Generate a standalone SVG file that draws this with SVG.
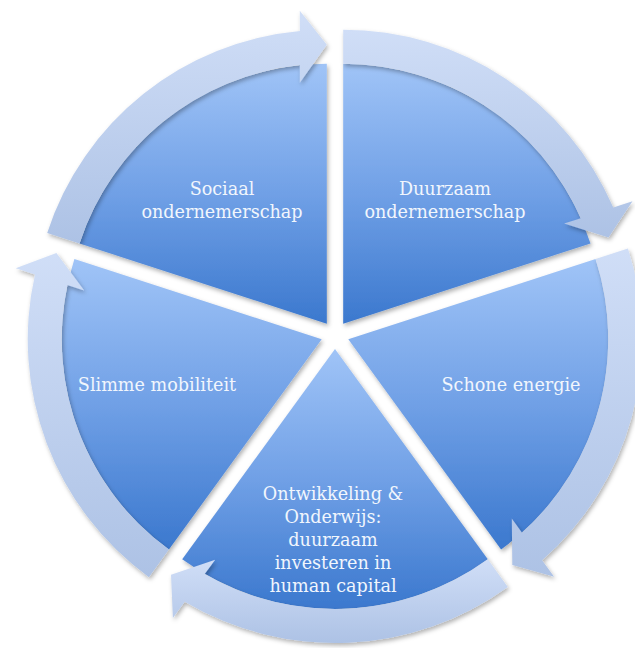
<svg xmlns="http://www.w3.org/2000/svg" width="635" height="648" viewBox="0 0 635 648">
<defs>
<linearGradient id="gw" x1="0" y1="0" x2="0" y2="1">
<stop offset="0" stop-color="#a0c4f7"/>
<stop offset="0.5" stop-color="#70a0e6"/>
<stop offset="1" stop-color="#3b78ce"/>
</linearGradient>
<linearGradient id="ga" x1="0" y1="0" x2="0" y2="1">
<stop offset="0" stop-color="#d0def7"/>
<stop offset="1" stop-color="#adc2e5"/>
</linearGradient>
<filter id="sh" x="-10%" y="-10%" width="120%" height="120%">
<feDropShadow dx="1.5" dy="2.5" stdDeviation="2.2" flood-color="#000" flood-opacity="0.3"/>
</filter>
</defs>
<style>
.wedge{fill:url(#gw);filter:url(#sh)}
.arrow{fill:url(#ga);filter:url(#sh)}
.lbl{font-family:"DejaVu Serif","Liberation Serif",serif;font-size:17.6px;fill:#f1f6fd;text-anchor:middle}
</style>
<rect width="635" height="648" fill="#ffffff"/>
<g id="node-duurzaam">
<path class="wedge" d="M343.2,323.7 L343.2,63.7 A260,260 0 0 1 590.5,243.4 Z"/>
<text class="lbl" x="445" y="195">Duurzaam</text>
<text class="lbl" x="445" y="218">ondernemerschap</text>
</g>
<g id="node-schone">
<path class="wedge" d="M348.3,339.3 L595.6,259.0 A260,260 0 0 1 501.1,549.6 Z"/>
<text class="lbl" x="511" y="391">Schone energie</text>
</g>
<g id="node-ontwikkeling">
<path class="wedge" d="M335,349 L487.8,559.3 A260,260 0 0 1 182.2,559.3 Z"/>
<text class="lbl" x="333" y="500">Ontwikkeling &amp;</text>
<text class="lbl" x="333" y="523">Onderwijs:</text>
<text class="lbl" x="333" y="546">duurzaam</text>
<text class="lbl" x="333" y="569">investeren in</text>
<text class="lbl" x="333" y="592">human capital</text>
</g>
<g id="node-slimme">
<path class="wedge" d="M321.7,339.3 L168.9,549.6 A260,260 0 0 1 74.4,259.0 Z"/>
<text class="lbl" x="157" y="391">Slimme mobiliteit</text>
</g>
<g id="node-sociaal">
<path class="wedge" d="M326.8,323.7 L79.5,243.4 A260,260 0 0 1 326.8,63.7 Z"/>
<text class="lbl" x="222" y="195">Sociaal</text>
<text class="lbl" x="222" y="218">ondernemerschap</text>
</g>
<g id="connectors">
<path class="arrow" d="M343.2,29.7 A294,294 0 0 1 613.3,207.6 L632.5,201.3 L608.5,237.5 L564.1,223.5 L580.9,218.2 A260,260 0 0 0 343.2,63.7 Z"/>
<path class="arrow" d="M627.9,248.5 A294,294 0 0 1 542.1,560.3 L554.1,576.7 L512.3,565.0 L511.8,518.4 L522.0,532.7 A260,260 0 0 0 595.6,259.0 Z"/>
<path class="arrow" d="M507.8,586.9 A294,294 0 0 1 184.7,601.7 L172.9,618.1 L171.0,574.7 L215.2,559.8 L204.7,574.0 A260,260 0 0 0 487.8,559.3 Z"/>
<path class="arrow" d="M148.9,577.2 A294,294 0 0 1 35.0,274.4 L15.7,268.3 L56.4,253.1 L84.2,290.5 L67.4,284.9 A260,260 0 0 0 168.9,549.6 Z"/>
<path class="arrow" d="M47.2,232.9 A294,294 0 0 1 299.9,30.9 L299.8,10.7 L326.8,44.7 L299.8,82.7 L299.9,65.1 A260,260 0 0 0 79.5,243.4 Z"/>
</g>
</svg>
